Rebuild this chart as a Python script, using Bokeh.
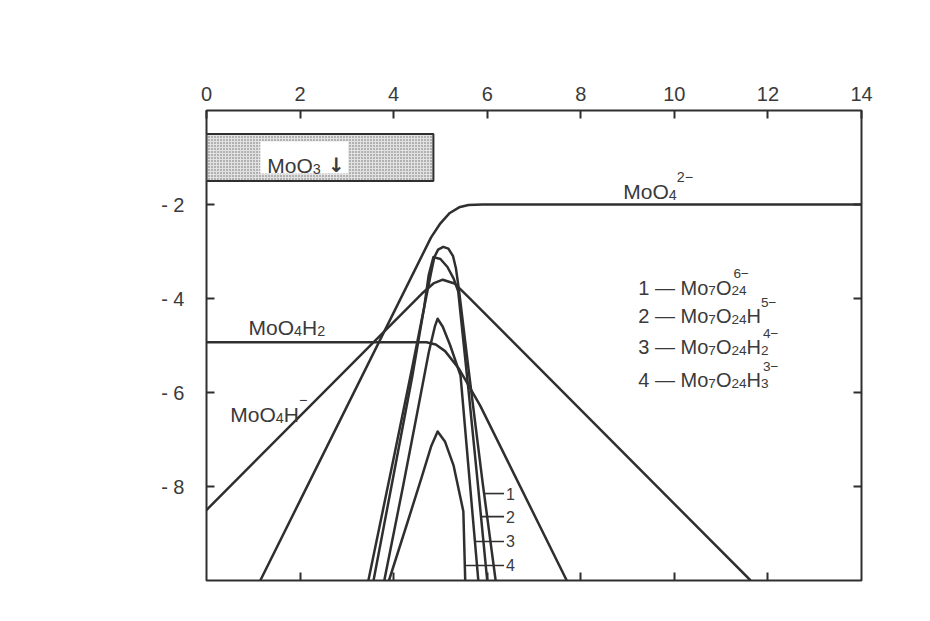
import numpy as np
from bokeh.plotting import figure
from bokeh.models import LinearAxis, FixedTicker, Label, Range1d, CustomJSTickFormatter
from bokeh.embed import file_html
from bokeh.resources import INLINE

# ---------------- data ----------------
ph_ticks = [0, 2, 4, 6, 8, 10, 12, 14]
logc_ticks = [-2, -4, -6, -8]
logc_tick_labels = ["- 2", "- 4", "- 6", "- 8"]

# MoO4^2-
ph_moo4 = [1.15, 2.0, 3.0, 4.0, 4.5, 4.8, 5.0, 5.2, 5.4, 5.6, 5.9, 14.0]
lc_moo4 = [-10.0, -8.3, -6.3, -4.3, -3.3, -2.7, -2.4, -2.18, -2.06, -2.01, -2.0, -2.0]

# MoO4H-
ph_hmoo4 = [0.0, 4.6, 4.85, 5.05, 5.3, 5.6, 11.63]
lc_hmoo4 = [-8.5, -3.9, -3.68, -3.6, -3.68, -3.97, -10.0]

# MoO4H2
ph_h2moo4 = [0.0, 4.7, 4.9, 5.1, 5.4, 5.85, 7.7]
lc_h2moo4 = [-4.93, -4.93, -4.98, -5.12, -5.5, -6.28, -10.0]

# 1 - Mo7O24^6-
ph_c1 = [3.46, 4.0, 4.4, 4.7, 4.8, 4.87, 4.95, 5.06, 5.17, 5.27, 5.33, 5.4, 5.6, 5.9, 6.18]
lc_c1 = [-10.0, -7.4, -5.45, -3.95, -3.45, -3.12, -2.96, -2.9, -2.94, -3.1, -3.35, -3.85, -5.5, -7.9, -10.0]

# 2 - Mo7O24H^5-
ph_c2 = [3.57, 4.0, 4.4, 4.65, 4.75, 4.85, 5.0, 5.15, 5.28, 5.38, 5.6, 5.8, 6.0]
lc_c2 = [-10.0, -7.75, -5.65, -4.2, -3.5, -3.12, -3.16, -3.33, -3.57, -3.85, -5.95, -7.95, -10.0]

# 3 - Mo7O24H2^4-
ph_c3 = [3.8, 4.2, 4.5, 4.75, 4.88, 4.94, 5.05, 5.21, 5.43, 5.6, 5.81]
lc_c3 = [-10.0, -8.0, -6.45, -5.15, -4.6, -4.43, -4.6, -5.0, -5.64, -7.6, -10.0]

# 4 - Mo7O24H3^3-
ph_c4 = [3.9, 4.3, 4.6, 4.8, 4.94, 5.1, 5.28, 5.49, 5.53]
lc_c4 = [-10.0, -8.75, -7.8, -7.15, -6.83, -7.05, -7.55, -8.53, -10.0]

# MoO3 precipitate band
moo3_ph = [0.0, 4.85]
moo3_logc = [-0.5, -1.5]

# curve number labels: levels where the leader lines sit
curve_numbers = ["1", "2", "3", "4"]
number_levels = [-8.15, -8.64, -9.17, -9.68]

# ---------------- styling ----------------
LINE = "#2f2f2f"
TXT = "#3a3a3a"
SANS = "Liberation Sans"
PLAIN = "DejaVu Sans"

p = figure(width=914, height=610, x_range=Range1d(0, 14), y_range=Range1d(-10, 0),
           x_axis_location="above", output_backend="svg", toolbar_location=None,
           min_border_left=206, min_border_right=53, min_border_top=110,
           min_border_bottom=30)
p.grid.visible = False
p.outline_line_color = LINE
p.outline_line_width = 2
p.background_fill_color = "white"
p.border_fill_color = "white"


def style_axis(ax, size="20px"):
    ax.axis_line_color = None
    ax.major_tick_in = 8
    ax.major_tick_out = 0
    ax.minor_tick_line_color = None
    ax.major_tick_line_color = LINE
    ax.major_tick_line_width = 2
    ax.major_label_text_font = SANS
    ax.major_label_text_color = TXT
    ax.major_label_text_font_size = size


top = p.xaxis[0]
top.ticker = FixedTicker(ticks=ph_ticks)
style_axis(top)
top.major_label_standoff = 10

left = p.yaxis[0]
left.ticker = FixedTicker(ticks=logc_ticks)
left.major_label_overrides = {t: s for t, s in zip(logc_ticks, logc_tick_labels)}
style_axis(left)
left.major_label_standoff = 22

blank = CustomJSTickFormatter(code="return ''")
bottom = LinearAxis(ticker=FixedTicker(ticks=ph_ticks[1:-1]), formatter=blank)
style_axis(bottom)
p.add_layout(bottom, "below")
right = LinearAxis(ticker=FixedTicker(ticks=logc_ticks), formatter=blank)
style_axis(right)
p.add_layout(right, "right")

# MoO3 band
p.quad(left=[moo3_ph[0]], right=[moo3_ph[1]], top=[moo3_logc[0]], bottom=[moo3_logc[1]],
       fill_color="#e2e2e2", hatch_pattern="dot", hatch_color="#666666", hatch_scale=3,
       hatch_weight=1, line_color=LINE, line_width=2)
p.quad(left=[1.15], right=[3.03], top=[-0.66], bottom=[-1.34], fill_color="white",
       line_color=None)

# curves
for xs, ys in [(ph_moo4, lc_moo4), (ph_hmoo4, lc_hmoo4), (ph_h2moo4, lc_h2moo4),
               (ph_c1, lc_c1), (ph_c2, lc_c2), (ph_c3, lc_c3), (ph_c4, lc_c4)]:
    p.line(xs, ys, line_color=LINE, line_width=2.5, line_join="round")

# curve number leader lines, starting on the right flank of each curve
for num, lev, (xs, ys) in zip(curve_numbers, number_levels,
                              [(ph_c1, lc_c1), (ph_c2, lc_c2), (ph_c3, lc_c3), (ph_c4, lc_c4)]):
    k = int(np.argmax(ys))
    rx = np.array(xs[k:])
    ry = np.array(ys[k:])
    x0 = float(np.interp(lev, ry[::-1], rx[::-1]))
    p.line([x0, 6.36], [lev, lev], line_color=LINE, line_width=1.6)
    p.add_layout(Label(x=6.40, y=lev, text=num, text_font=SANS, text_font_size="16px",
                       text_color=TXT, text_baseline="middle", text_align="left"))

# ---------------- chemical formula labels ----------------
WID = {'M': 0.833, 'o': 0.556, 'O': 0.778, 'H': 0.722, '−': 0.584, '-': 0.333,
       '—': 1.0, ' ': 0.278, '↓': 0.5, '.': 0.278}


def tw(txt, size):
    return sum(WID.get(c, 0.556) for c in txt) * size


def formula(x, y, parts, size):
    off = 0.0
    sub_start = None
    for txt, role in parts:
        font, style = SANS, "normal"
        if role == "n":
            s, dy, start = size, 0, off
            off = start + tw(txt, s)
            sub_start = None
        elif role == "arrow":
            s, dy, start = size * 0.95, 0, off + size * 0.35
            font, style = PLAIN, "bold"
            off = start + tw(txt, s)
        elif role == "sub":
            s, dy, start = size * 0.68, -size * 0.16, off
            sub_start = start
            off = start + tw(txt, s)
        elif role == "supstack":
            s, dy = size * 0.68, size * 0.7
            start = (sub_start + size * 0.1) if sub_start is not None else off
            off = max(off, start + tw(txt, s))
        else:  # sup
            s, dy, start = size * 0.68, size * 0.7, off
            off = start + tw(txt, s)
        p.add_layout(Label(x=x, y=y, x_offset=start, y_offset=dy, text=txt,
                           text_font=font, text_font_style=style,
                           text_font_size=f"{s:.1f}px",
                           text_color=TXT, text_baseline="alphabetic", text_align="left"))


formula(1.30, -1.17, [("MoO", "n"), ("3", "sub"), ("↓", "arrow")], 21)
formula(8.91, -1.72, [("MoO", "n"), ("4", "sub"), ("2−", "sup")], 21)
formula(0.90, -4.62, [("MoO", "n"), ("4", "sub"), ("H", "n"), ("2", "sub")], 21)
formula(0.51, -6.47, [("MoO", "n"), ("4", "sub"), ("H", "n"), ("−", "sup")], 21)

formula(9.23, -3.77, [("1 — Mo", "n"), ("7", "sub"), ("O", "n"), ("24", "sub"), ("6−", "supstack")], 20)
formula(9.23, -4.38, [("2 — Mo", "n"), ("7", "sub"), ("O", "n"), ("24", "sub"), ("H", "n"), ("5−", "sup")], 20)
formula(9.23, -5.04, [("3 — Mo", "n"), ("7", "sub"), ("O", "n"), ("24", "sub"), ("H", "n"), ("2", "sub"), ("4−", "supstack")], 20)
formula(9.23, -5.74, [("4 — Mo", "n"), ("7", "sub"), ("O", "n"), ("24", "sub"), ("H", "n"), ("3", "sub"), ("3−", "supstack")], 20)

# axis titles
p.add_layout(Label(x=7.41, y=1.43, text="pH", text_font=PLAIN, text_font_size="21px",
                   text_color=TXT, text_baseline="middle", text_align="left"))
p.add_layout(Label(x=-3.83, y=-5.1, text="log. C", text_font=PLAIN, text_font_size="22px",
                   text_color=TXT, text_baseline="middle", text_align="left"))

open("out.html", "w").write(file_html(p, INLINE))
